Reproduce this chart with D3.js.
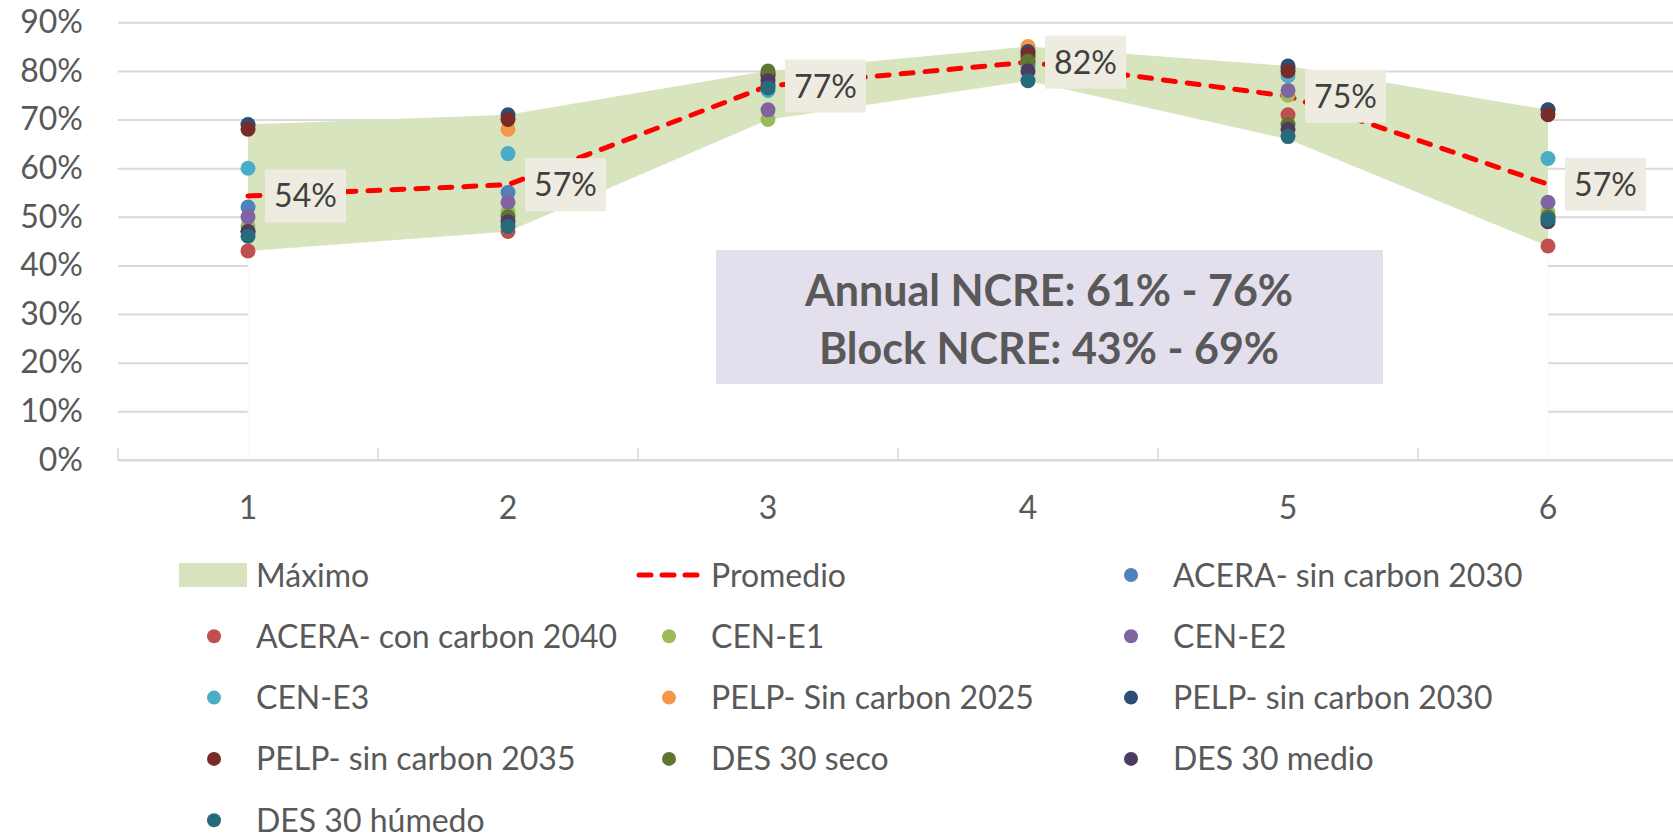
<!DOCTYPE html>
<html>
<head>
<meta charset="utf-8">
<script src="https://cdn.jsdelivr.net/npm/d3@7"></script>
<style>
  body { margin: 0; background: #fff; }
  svg text { font-family: Lato, "Open Sans", sans-serif; }
</style>
</head>
<body>
<div id="chart"></div>
<script>
// categories (blocks)
var categories = ["1", "2", "3", "4", "5", "6"];

// band of the area series
var maxValues = [0.69, 0.71, 0.80, 0.85, 0.81, 0.72];
var minValues = [0.43, 0.47, 0.70, 0.78, 0.66, 0.44];

// dashed average line
var avgValues = [0.543, 0.566, 0.769, 0.818, 0.748, 0.567];

var yTicks = [0, 0.1, 0.2, 0.3, 0.4, 0.5, 0.6, 0.7, 0.8, 0.9];

// scenario series
var seriesNames = [
    "ACERA- sin carbon 2030", "ACERA- con carbon 2040", "CEN-E1", "CEN-E2", "CEN-E3",
    "PELP- Sin carbon 2025", "PELP- sin carbon 2030", "PELP- sin carbon 2035",
    "DES 30 seco", "DES 30 medio", "DES 30 húmedo"
];
var seriesColors = [
    "#4f81bd", "#c0504d", "#9bbb59", "#8064a2", "#4bacc6",
    "#f79646", "#2c4d75", "#772c2a", "#5f7530", "#4d3b62", "#276a7c"
];
var acerasin2030 = [0.52, 0.55, 0.77, 0.83, 0.805, 0.50];
var aceracon2040 = [0.43, 0.47, 0.77, 0.825, 0.71, 0.44];
var cenE1 = [0.48, 0.51, 0.70, 0.82, 0.75, 0.51];
var cenE2 = [0.50, 0.53, 0.72, 0.81, 0.76, 0.53];
var cenE3 = [0.60, 0.63, 0.76, 0.815, 0.79, 0.62];
var pelp2025 = [0.69, 0.68, 0.79, 0.85, 0.80, 0.72];
var pelp2030 = [0.69, 0.71, 0.79, 0.84, 0.81, 0.72];
var pelp2035 = [0.68, 0.70, 0.795, 0.835, 0.80, 0.71];
var desSeco = [0.47, 0.50, 0.80, 0.82, 0.69, 0.50];
var desMedio = [0.47, 0.49, 0.78, 0.80, 0.68, 0.49];
var desHumedo = [0.46, 0.48, 0.765, 0.78, 0.665, 0.495];
var seriesValues = [acerasin2030, aceracon2040, cenE1, cenE2, cenE3,
    pelp2025, pelp2030, pelp2035, desSeco, desMedio, desHumedo];

var noteLines = ["Annual NCRE: 61% - 76%", "Block NCRE: 43% - 69%"];

var W = 1673, H = 836;
var plot = {left: 118, right: 1678, top: 22.3, bottom: 460};
var gridColor = "#d9d9d9", textColor = "#595959";

var svg = d3.select("#chart").append("svg")
    .attr("width", W)
    .attr("height", H)
    .attr("xmlns", "http://www.w3.org/2000/svg");

var x = d3.scaleBand().domain(categories).range([plot.left, plot.right]).padding(0);
var y = d3.scaleLinear().domain([0, 0.9]).range([plot.bottom, plot.top]);
var cx = function(i){ return x(categories[i]) + x.bandwidth() / 2; };
var pct = d3.format(".0%");

//Gridlines and y labels
var yAxis = svg.append("g")
    .attr("transform", "translate(" + plot.left + ",0)")
    .call(d3.axisLeft(y).tickValues(yTicks).tickFormat(pct)
        .tickSize(-(plot.right - plot.left)).tickPadding(35));
yAxis.select(".domain").remove();
yAxis.selectAll("line").attr("stroke", gridColor).attr("stroke-width", 2);
yAxis.selectAll("text")
    .attr("fill", textColor)
    .attr("font-size", 32)
    .attr("font-family", "Lato, sans-serif");

//Area: white from 0 to min, green from min to max
var whiteArea = d3.area()
    .x(function(d, i){ return cx(i); })
    .y0(y(0))
    .y1(function(d){ return y(d); });
svg.append("path")
    .datum(minValues)
    .attr("d", whiteArea)
    .attr("fill", "#ffffff")
    .attr("stroke", "#f6f6f0")
    .attr("stroke-width", 1);

var band = d3.area()
    .x(function(d, i){ return cx(i); })
    .y0(function(d, i){ return y(minValues[i]); })
    .y1(function(d){ return y(d); });
svg.append("path")
    .datum(maxValues)
    .attr("d", band)
    .attr("fill", "#d7e4bd");

//X axis line, inside ticks at the category boundaries, and labels
svg.append("line")
    .attr("x1", plot.left).attr("x2", plot.right)
    .attr("y1", y(0)).attr("y2", y(0))
    .attr("stroke", gridColor).attr("stroke-width", 2);
svg.selectAll(".xtick")
    .data(categories.concat(["end"]))
    .enter().append("line")
    .attr("class", "xtick")
    .attr("x1", function(d, i){ return plot.left + i * x.step(); })
    .attr("x2", function(d, i){ return plot.left + i * x.step(); })
    .attr("y1", y(0) - 12).attr("y2", y(0))
    .attr("stroke", gridColor).attr("stroke-width", 1.5);
var xAxis = svg.append("g")
    .attr("transform", "translate(0," + y(0) + ")")
    .call(d3.axisBottom(x).tickSize(0).tickPadding(36));
xAxis.select(".domain").remove();
xAxis.selectAll("text")
    .attr("fill", textColor)
    .attr("font-size", 32)
    .attr("font-family", "Lato, sans-serif");

//Average line
var avgLine = d3.line()
    .x(function(d, i){ return cx(i); })
    .y(function(d){ return y(d); });
svg.append("path")
    .datum(avgValues)
    .attr("d", avgLine)
    .attr("fill", "none")
    .attr("stroke", "#ff0000")
    .attr("stroke-width", 5)
    .attr("stroke-dasharray", "12 12")
    .attr("stroke-linecap", "round");

//Scenario points, later series on top
seriesValues.forEach(function(vals, s){
    svg.append("g").selectAll("circle")
        .data(vals)
        .enter().append("circle")
        .attr("cx", function(d, i){ return cx(i); })
        .attr("cy", function(d){ return y(d); })
        .attr("r", 7.5)
        .attr("fill", seriesColors[s]);
});

//Data labels of the average
var labels = svg.append("g").selectAll("g")
    .data(avgValues)
    .enter().append("g")
    .attr("transform", function(d, i){ return "translate(" + (cx(i) + 17) + "," + y(d) + ")"; });
labels.append("rect")
    .attr("x", 0).attr("y", -26.5)
    .attr("width", 81).attr("height", 53)
    .attr("fill", "#eeece1");
labels.append("text")
    .attr("x", 40.5).attr("y", 0)
    .attr("dy", "0.36em")
    .attr("text-anchor", "middle")
    .attr("font-size", 32)
    .attr("fill", "#404040")
    .text(function(d){ return pct(d); });

//Note box
svg.append("rect")
    .attr("x", 716).attr("y", 250)
    .attr("width", 667).attr("height", 134)
    .attr("fill", "#e4dfec");
svg.selectAll(".note")
    .data(noteLines)
    .enter().append("text")
    .attr("class", "note")
    .attr("x", 1049)
    .attr("y", function(d, i){ return 291 + i * 58; })
    .attr("dy", "0.36em")
    .attr("text-anchor", "middle")
    .attr("font-size", 43)
    .attr("font-weight", "bold")
    .attr("fill", textColor)
    .text(function(d){ return d; });

//Legend
var legendItems = [{name: "Máximo", type: "area", color: "#d7e4bd"},
    {name: "Promedio", type: "line", color: "#ff0000"}];
seriesNames.forEach(function(n, s){
    legendItems.push({name: n, type: "dot", color: seriesColors[s]});
});
var colText = [256, 711, 1173];
var legend = svg.append("g").selectAll("g")
    .data(legendItems)
    .enter().append("g")
    .attr("transform", function(d, i){
        return "translate(" + colText[i % 3] + "," + (575 + Math.floor(i / 3) * 61.3) + ")";
    });
legend.each(function(d){
    var g = d3.select(this);
    if (d.type == "area"){
        g.append("rect").attr("x", -77).attr("y", -12).attr("width", 68).attr("height", 24).attr("fill", d.color);
    }
    else if (d.type == "line"){
        g.append("line").attr("x1", -72).attr("x2", -8).attr("y1", 0).attr("y2", 0)
            .attr("stroke", d.color).attr("stroke-width", 5)
            .attr("stroke-dasharray", "12 11").attr("stroke-linecap", "round");
    }
    else{
        g.append("circle").attr("cx", -42).attr("cy", 0).attr("r", 7).attr("fill", d.color);
    }
});
legend.append("text")
    .attr("x", 0).attr("y", 0)
    .attr("dy", "0.36em")
    .attr("font-size", 32)
    .attr("fill", textColor)
    .text(function(d){ return d.name; });
</script>
</body>
</html>
